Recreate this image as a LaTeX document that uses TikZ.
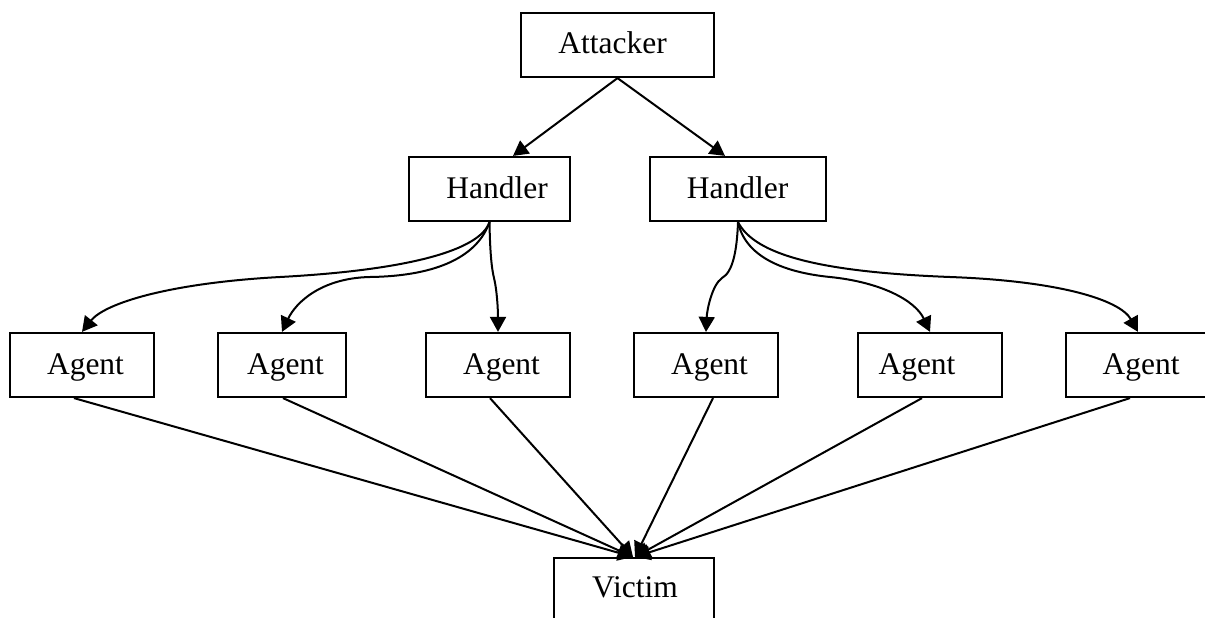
\documentclass[tikz,border=0pt]{standalone}
\usepackage{fontspec}
\setmainfont{Liberation Serif}
\usetikzlibrary{arrows.meta}
\tikzset{
  box/.style={draw=black, line width=2.2pt, fill=white, inner sep=0pt, minimum height=64pt},
  lbl/.style={font=\fontsize{31.5pt}{38pt}\selectfont, inner sep=0pt, anchor=base},
  edge/.style={line width=2pt, -{Triangle[length=15pt,width=16pt]}},
}
\begin{document}
\begin{tikzpicture}[x=1pt,y=-1pt]
  \useasboundingbox (0,0) rectangle (1205,618);
  \fill[white] (0,0) rectangle (1205,618);
  \clip (0,0) rectangle (1205,618);

  % boxes
  \node[box, minimum width=193pt] (att) at (617.5,45) {};
  \node[box, minimum width=161pt] (h1) at (489.5,189) {};
  \node[box, minimum width=176pt] (h2) at (738,189) {};
  \node[box, minimum width=144pt] (a1) at (82,365) {};
  \node[box, minimum width=128pt] (a2) at (282,365) {};
  \node[box, minimum width=144pt] (a3) at (498,365) {};
  \node[box, minimum width=144pt] (a4) at (706,365) {};
  \node[box, minimum width=144pt] (a5) at (930,365) {};
  \node[box, minimum width=144pt] (a6) at (1138,365) {};
  \node[box, minimum width=160pt, minimum height=82pt] (v) at (634,599) {};

  % labels
  \node[lbl] (tatt) at (612.5,53.3) {Attacker};
  \node[lbl] (th1) at (497,198.3) {Handler};
  \node[lbl] (th2) at (737.5,198.3) {Handler};
  \node[lbl] (ta1) at (85.5,374) {Agent};
  \node[lbl] (ta2) at (285.5,374) {Agent};
  \node[lbl] (ta3) at (501.5,374) {Agent};
  \node[lbl] (ta4) at (709.5,374) {Agent};
  \node[lbl] (ta5) at (917,374) {Agent};
  \node[lbl] (ta6) at (1141,374) {Agent};
  \node[lbl] (tv) at (635,597.3) {Victim};

  % attacker to handlers
  \draw[edge] (att.south) -- ([xshift=23.5pt]h1.north);
  \draw[edge] (att.south) -- ([xshift=-13pt]h2.north);

  % first handler to its agents
  \draw[edge] (h1.south) .. controls (480,250) and (410,270) .. (280,277)
                         .. controls (170,283) and (105,303) .. (a1.north);
  \draw[edge] (h1.south) .. controls (478,255) and (440,276) .. (370,277)
                         .. controls (322,278) and (296,302) .. (a2.north);
  \draw[edge] (h1.south) .. controls (490,255) and (492,270) .. (494,278)
                         .. controls (497,290) and (498,310) .. (a3.north);

  % second handler to its agents
  \draw[edge] (h2.south) .. controls (737,250) and (733,272) .. (722,278)
                         .. controls (712,285) and (707,310) .. (a4.north);
  \draw[edge] (h2.south) .. controls (745,255) and (780,272) .. (830,277)
                         .. controls (880,282) and (915,300) .. (a5.north);
  \draw[edge] (h2.south) .. controls (755,255) and (820,272) .. (950,277)
                         .. controls (1060,281) and (1120,300) .. (a6.north);

  % agents to victim
  \draw[edge] ([xshift=-8pt]a1.south) -- ([xshift=-1pt]v.north);
  \draw[edge] ([xshift=1pt]a2.south) -- ([xshift=-1pt]v.north);
  \draw[edge] ([xshift=-8pt]a3.south) -- ([xshift=-1pt]v.north);
  \draw[edge] ([xshift=7pt]a4.south) -- ([xshift=1pt]v.north);
  \draw[edge] ([xshift=-8pt]a5.south) -- ([xshift=1pt]v.north);
  \draw[edge] ([xshift=-8pt]a6.south) -- ([xshift=1pt]v.north);
\end{tikzpicture}
\end{document}
